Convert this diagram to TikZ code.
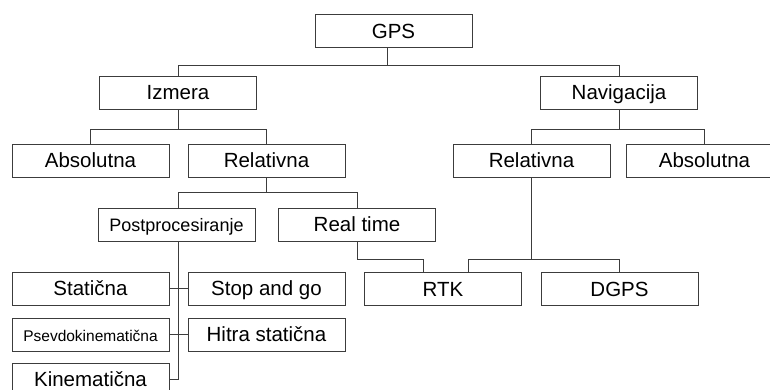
\documentclass[tikz,border=0pt]{standalone}
\usepackage{fontspec}
\setmainfont{Liberation Sans}
\usetikzlibrary{positioning, calc}
\definecolor{boxgray}{RGB}{60, 60, 60}

\begin{document}
\begin{tikzpicture}[x=1pt, y=-1pt,
    treebox/.style={draw=boxgray, line width=0.8pt, minimum width=157pt, minimum height=33pt, inner sep=0pt, text height=16pt, text depth=2pt, font=\fontsize{20.5}{24}\selectfont},
    link/.style={draw=boxgray, line width=0.8pt}]
    \useasboundingbox (0,0) rectangle (770,389);

    % levels of the tree
    \node[treebox] (gps) at (393.5,31) {GPS};
    \node[treebox] (izmera) at (178,92.5) {Izmera};
    \node[treebox] (navigacija) at (619,92.5) {Navigacija};
    \node[treebox] (izmAbs) at (90.5,160.5) {Absolutna};
    \node[treebox] (izmRel) at (266.5,160.5) {Relativna};
    \node[treebox] (navRel) at (531.5,160.5) {Relativna};
    \node[treebox] (navAbs) at (704.5,160.5) {Absolutna};
    \node[treebox, font=\fontsize{18}{22}\selectfont] (post) at (176.5,224.5) {Postprocesiranje};
    \node[treebox] (realtime) at (357,224.5) {Real time};
    \node[treebox] (staticna) at (90.5,288.5) {Statična};
    \node[treebox] (stopgo) at (266.5,288.5) {Stop and go};
    \node[treebox] (rtk) at (443,289) {RTK};
    \node[treebox] (dgps) at (619.5,289) {DGPS};
    \node[treebox, font=\fontsize{15.5}{19}\selectfont] (psevdo) at (90.5,334.5) {Psevdokinematična};
    \node[treebox] (hitra) at (266.5,334.5) {Hitra statična};
    \node[treebox] (kinem) at (90.5,379.5) {Kinematična};

    \draw[link] ([xshift=-6pt]gps.south) -- ++(0,17) -| (izmera.north);
    \draw[link] ([xshift=-6pt]gps.south) ++(0,17) -| (navigacija.north);
    \draw[link] (izmera.south) -- ++(0,20) -| (izmAbs.north);
    \draw[link] (izmera.south) ++(0,20) -| (izmRel.north);
    \draw[link] (navigacija.south) -- ++(0,20) -| (navRel.north);
    \draw[link] (navigacija.south) ++(0,20) -| (navAbs.north);
    \draw[link] (izmRel.south) -- ++(0,15) -| ([xshift=1.5pt]post.north);
    \draw[link] (izmRel.south) ++(0,15) -| (realtime.north);
    \draw[link] (navRel.south) -- ++(0,82) -| ([xshift=25pt]rtk.north);
    \draw[link] (navRel.south) ++(0,82) -| (dgps.north);
    \draw[link] (realtime.south) -- ++(0,18) -| ([xshift=-20pt]rtk.north);

    % postprocesiranje branches
    \draw[link] ([xshift=1.5pt]post.south) |- (kinem.east);
    \draw[link] (staticna.east) -- (stopgo.west);
    \draw[link] (psevdo.east) -- (hitra.west);
\end{tikzpicture}
\end{document}
